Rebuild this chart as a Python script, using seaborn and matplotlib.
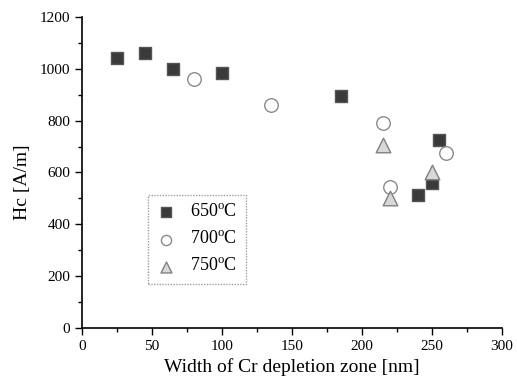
import matplotlib
matplotlib.use("Agg")
import matplotlib.pyplot as plt
import pandas as pd
import seaborn as sns
from matplotlib.ticker import MultipleLocator

# -----------------------------
# Data
# -----------------------------

x_650 = [25, 45, 65, 100, 185, 240, 250, 255]
hc_650 = [1040, 1060, 1000, 985, 895, 515, 560, 725]

x_700 = [80, 135, 215, 220, 260]
hc_700 = [960, 860, 790, 545, 675]

x_750 = [215, 220, 250]
hc_750 = [705, 500, 600]

labels = ["650$^{\\mathrm{o}}$C", "700$^{\\mathrm{o}}$C", "750$^{\\mathrm{o}}$C"]

sns.set_theme(style="ticks")
plt.rcParams["font.family"] = ["Liberation Serif", "DejaVu Serif"]
plt.rcParams["mathtext.fontset"] = "custom"
plt.rcParams["mathtext.rm"] = "Liberation Serif"
for key in ["axes.edgecolor", "xtick.color", "ytick.color", "axes.labelcolor", "text.color"]:
    plt.rcParams[key] = "black"

frames = []
for xs, ys, lab in [(x_650, hc_650, labels[0]), (x_700, hc_700, labels[1]), (x_750, hc_750, labels[2])]:
    frames.append(pd.DataFrame({"width": xs, "hc": ys, "temp": lab}))
df = pd.concat(frames, ignore_index=True)

styles = {
    labels[0]: dict(marker="s", color="#3a3a3a", edgecolor="#555555", s=80),
    labels[1]: dict(marker="o", color="white", edgecolor="#8a8a8a", s=95),
    labels[2]: dict(marker="^", color="#d8d8d8", edgecolor="#808080", s=110),
}

fig = plt.figure(figsize=(5.17, 3.85), dpi=100)
ax = fig.add_axes([0.159, 0.148, 0.812, 0.808])

for lab in labels:
    st = styles[lab]
    sns.scatterplot(
        data=df[df["temp"] == lab], x="width", y="hc", ax=ax,
        marker=st["marker"], color=st["color"], edgecolor=st["edgecolor"],
        linewidth=1.0, s=st["s"], label=lab, zorder=3,
    )

ax.set_xlim(0, 300)
ax.set_ylim(0, 1200)
ax.xaxis.set_major_locator(MultipleLocator(50))
ax.xaxis.set_minor_locator(MultipleLocator(25))
ax.yaxis.set_major_locator(MultipleLocator(200))
ax.yaxis.set_minor_locator(MultipleLocator(100))
ax.tick_params(which="major", direction="out", length=5, width=1, labelsize=11)
ax.tick_params(which="minor", direction="out", length=3, width=1)
sns.despine(ax=ax)
for sp in ["left", "bottom"]:
    ax.spines[sp].set_linewidth(1.2)

ax.set_xlabel("Width of Cr depletion zone [nm]", fontsize=14)
ax.set_ylabel("Hc [A/m]", fontsize=14)
ax.yaxis.set_label_coords(-0.121, 0.47)

leg = ax.legend(
    loc="upper left", bbox_to_anchor=(0.157, 0.428), frameon=True,
    fancybox=False, edgecolor="#888888", fontsize=13, handletextpad=0.8,
    borderpad=0.5, labelspacing=0.54, handlelength=1.0, borderaxespad=0,
    markerscale=0.75,
)
leg.get_frame().set_linestyle((0, (1, 1)))
leg.get_frame().set_linewidth(1.0)

fig.savefig("out.png", dpi=100)
